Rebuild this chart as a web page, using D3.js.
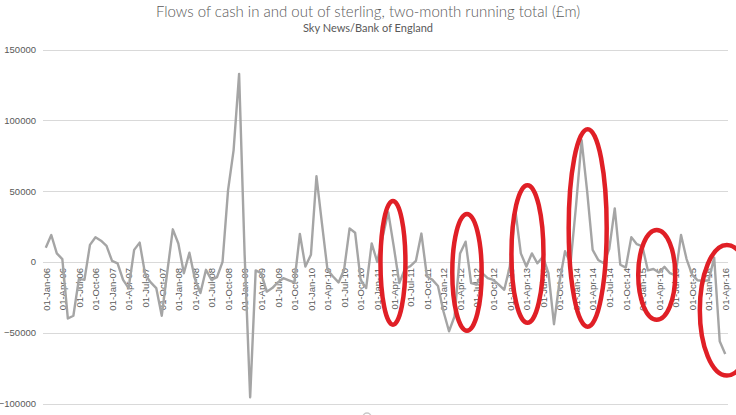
<!DOCTYPE html>
<html>
<head>
<meta charset="utf-8">
<script src="https://cdn.jsdelivr.net/npm/d3@7"></script>
<style>
  html, body { margin: 0; padding: 0; background: #fff; }
  svg { display: block; }
  text { font-family: "Lato", "Open Sans", sans-serif; fill: #595959; }
</style>
</head>
<body>
<svg id="chart" width="736" height="415"></svg>
<script>
// ---- Data ----
const title = "Flows of cash in and out of sterling, two-month running total (£m)";
const subtitle = "Sky News/Bank of England";

const startMonth = new Date(2006, 0, 1);
const endMonth = new Date(2016, 4, 1); // exclusive: last is Apr-16
const months = d3.timeMonth.range(startMonth, endMonth);

const flows = [
  // 2006
  10000, 19000, 6000, 2000, -40000, -38000, -12000, -12700, 12000, 17400, 15000, 11300,
  // 2007
  700, -1000, -12700, -18500, 8500, 13600, -9000, -14500, -18500, -38000, -7000, 23000,
  // 2008
  13000, -8000, 6500, -12000, -22000, -5600, -12700, -10800, 0, 50700, 78800, 132800,
  // 2009
  5000, -95700, -6000, -8000, -21000, -18500, -14500, -11500, -13000, -14500, 19700, -3300,
  // 2010
  5000, 60500, 27000, -5600, -10300, -14500, -5600, 23700, 20600, -12700, -18500, 13100,
  // 2011
  0, 18000, 35000, 10800, -15000, -5000, -3000, 700, 20000, -10300, -12700, -17000,
  // 2012
  -35000, -49000, -38500, 6000, 14300, -15000, -16000, -8000, -11500, -12700, -16000, -19700,
  // 2013
  -3300, 36600, 6000, -3300, 6000, -1000, 3700, -8000, -44000, -14000, 7500, -1000,
  // 2014
  40000, 86000, 50000, 8500, 1400, -1000, 9000, 37800, -2000, -4000, 17500, 12500,
  // 2015
  11000, -6000, -5000, -7500, -3500, -8000, -9500, 19000, 2000, -9000, -13000, -13500,
  // 2016
  -13000, 3000, -56000, -65000
];

const yTicks = [-100000, -50000, 0, 50000, 100000, 150000];
const xTickEvery = 3; // a label every quarter: 01-Jan-06, 01-Apr-06, ...
const tickFormat = d3.timeFormat("%d-%b-%y");

// Red hand-drawn highlight rings (centre in month index, value span, half-width in months)
const ringCentre = [62.85, 76.25, 87.2, 98.1, 110.6, 123.3];
const ringTop    = [43000, 33800, 54200, 93600, 22500, 12000];
const ringBottom = [-44300, -48600, -43000, -45800, -40800, -80300];
const ringHalfWidth = [2.26, 2.66, 2.9, 3.44, 3.35, 4.9];

// ---- Chart ----
const svg = d3.select("#chart");
const plot = { left: 43, right: 728, top: 49.5, bottom: 403.5 };

const x = d3.scalePoint()
  .domain(d3.range(months.length))
  .range([plot.left, plot.right])
  .padding(0.5);
const step = x.step();
const xIdx = i => x(0) + i * step;

const y = d3.scaleLinear()
  .domain([-100000, 150000])
  .range([plot.bottom, plot.top]);

// Title
svg.append("text")
  .attr("x", 368).attr("y", 17)
  .attr("text-anchor", "middle")
  .style("font-size", "15px")
  .style("font-weight", 300)
  .text(title);
svg.append("text")
  .attr("x", 368).attr("y", 32)
  .attr("text-anchor", "middle")
  .style("font-size", "11px")
  .text(subtitle);

// Gridlines
svg.append("g")
  .selectAll("line")
  .data(yTicks)
  .join("line")
  .attr("x1", plot.left).attr("x2", plot.right)
  .attr("y1", d => Math.round(y(d)) + 0.5)
  .attr("y2", d => Math.round(y(d)) + 0.5)
  .attr("stroke", "#d9d9d9")
  .attr("stroke-width", 1);

// Y axis labels
const yAxis = d3.axisLeft(y).tickValues(yTicks).tickSize(0).tickPadding(0).tickFormat(d3.format("d"));
const gy = svg.append("g").attr("transform", `translate(36,0)`).call(yAxis);
gy.select(".domain").remove();
gy.selectAll("text")
  .style("font-family", "'Liberation Sans', Arial, sans-serif")
  .style("font-size", "9.5px")
  .attr("fill", "#595959");

// X axis labels (rotated), hanging below the zero line
const tickIdx = d3.range(0, months.length, xTickEvery);
const xAxis = d3.axisBottom(x).tickValues(tickIdx).tickSize(0)
  .tickFormat(i => tickFormat(months[i]));
const gx = svg.append("g").attr("transform", `translate(0,${y(0)})`).call(xAxis);
gx.select(".domain").remove();
gx.selectAll("text")
  .style("font-family", "'Liberation Sans', Arial, sans-serif")
  .style("font-size", "9.5px")
  .attr("fill", "#595959")
  .attr("text-anchor", "end")
  .attr("transform", "rotate(-90)")
  .attr("x", -6)
  .attr("y", 0)
  .attr("dy", "0.35em");

// Series line
const line = d3.line()
  .x((d, i) => x(i))
  .y(d => y(d));
svg.append("path")
  .datum(flows)
  .attr("fill", "none")
  .attr("stroke", "#a5a5a5")
  .attr("stroke-width", 2.4)
  .attr("stroke-linejoin", "round")
  .attr("d", line);

// Red highlight rings
svg.append("g")
  .selectAll("ellipse")
  .data(ringCentre.map((c, i) => ({ c, top: ringTop[i], bottom: ringBottom[i], hw: ringHalfWidth[i] })))
  .join("ellipse")
  .attr("cx", d => xIdx(d.c))
  .attr("cy", d => (y(d.top) + y(d.bottom)) / 2)
  .attr("rx", d => d.hw * step)
  .attr("ry", d => (y(d.bottom) - y(d.top)) / 2)
  .attr("fill", "none")
  .attr("stroke", "#e01f26")
  .attr("stroke-width", 4.5);

// Partially visible legend marker at the bottom edge
svg.append("circle")
  .attr("cx", 367).attr("cy", 417).attr("r", 4)
  .attr("fill", "none").attr("stroke", "#c8c8c8").attr("stroke-width", 1.5);
</script>
</body>
</html>
